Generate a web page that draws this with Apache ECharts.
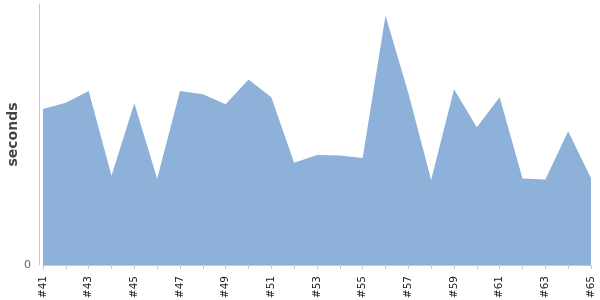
<!DOCTYPE html>
<html><head><meta charset="utf-8">
<script src="https://cdn.jsdelivr.net/npm/echarts@6/dist/echarts.min.js"></script>
<style>html,body{margin:0;padding:0;background:#fff}#c{width:600px;height:300px}</style>
</head><body><div id="c"></div>
<script>
const categories = ['#41','#42','#43','#44','#45','#46','#47','#48','#49','#50','#51','#52','#53','#54','#55','#56','#57','#58','#59','#60','#61','#62','#63','#64','#65'];
const seconds = [59.8,62.2,66.7,34.2,62.0,33.0,66.7,65.4,61.6,71.1,64.3,39.2,42.1,42.0,41.0,95.6,65.9,32.6,67.3,52.8,64.3,33.1,32.8,51.2,33.2];
const yTicks = [0, 100];

const chart = echarts.init(document.getElementById('c'), null, {renderer:'canvas'});
chart.setOption({
  animation:false,
  grid:{left:43,right:9,top:4,bottom:35,containLabel:false,outerBoundsMode:'none'},
  xAxis:{
    type:'category', data:categories, boundaryGap:false, offset:5,
    axisLine:{lineStyle:{color:'#c8c8c8'}},
    axisTick:{show:true, interval:0, length:4, lineStyle:{color:'#c8c8c8'}},
    axisLabel:{interval:1, rotate:90, fontSize:10.5, color:'#1a1a1a', fontFamily:'DejaVu Sans', margin:6}
  },
  yAxis:{
    type:'value', min:yTicks[0], max:yTicks[1], interval:yTicks[1]-yTicks[0], offset:4,
    name:'seconds', nameLocation:'middle', nameGap:19, nameMoveOverlap:false,
    nameTextStyle:{fontSize:14, fontWeight:'bold', color:'#444', fontFamily:'DejaVu Sans'},
    axisLine:{show:true, lineStyle:{color:'#c8c8c8'}},
    axisTick:{show:false},
    splitLine:{show:false},
    axisLabel:{fontSize:11, color:'#666', fontFamily:'DejaVu Sans', margin:8,
      formatter:function(v){return v===0?'0':'';}}
  },
  series:[{
    type:'line', data:seconds, symbol:'none',
    lineStyle:{width:0, color:'#8EB1DA'},
    areaStyle:{color:'#8EB1DA', opacity:1}
  }]
});
</script></body></html>
